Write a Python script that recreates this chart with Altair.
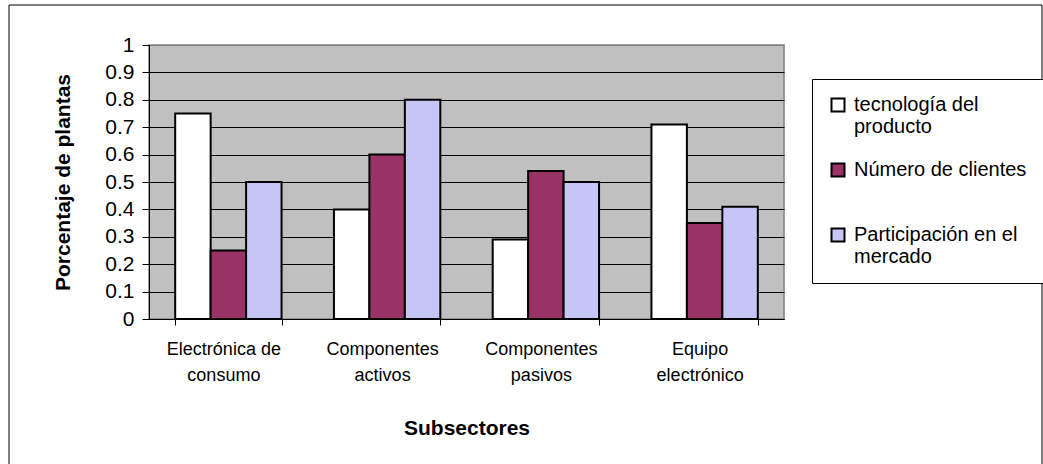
import altair as alt
import pandas as pd

# ---- data ----
CATEGORIES = ["Electrónica de consumo", "Componentes activos",
              "Componentes pasivos", "Equipo electrónico"]
CATEGORY_LINES = [["Electrónica de", "consumo"], ["Componentes", "activos"],
                  ["Componentes", "pasivos"], ["Equipo", "electrónico"]]
SERIES = ["tecnología del producto", "Número de clientes",
          "Participación en el mercado"]
SERIES_LINES = [["tecnología del", "producto"], ["Número de clientes"],
                ["Participación en el", "mercado"]]
TECNOLOGIA = [0.75, 0.40, 0.29, 0.71]
CLIENTES = [0.25, 0.60, 0.54, 0.35]
PARTICIPACION = [0.50, 0.80, 0.50, 0.41]
COLORS = ["#FFFFFF", "#993366", "#C6C6F6"]
Y_TICKS = [0, 0.1, 0.2, 0.3, 0.4, 0.5, 0.6, 0.7, 0.8, 0.9, 1]

FONT = "Liberation Sans"

rows = []
for name, vals in zip(SERIES, [TECNOLOGIA, CLIENTES, PARTICIPACION]):
    for cat, v in zip(CATEGORIES, vals):
        rows.append({"subsector": cat, "serie": name, "valor": v})
df = pd.DataFrame(rows)


def label_expr(keys, lines):
    expr = "datum.label"
    for k, l in reversed(list(zip(keys, lines))):
        arr = "[" + ",".join("'" + s + "'" for s in l) + "]"
        expr = f"datum.label == '{k}' ? {arr} : ({expr})"
    return expr


bars = alt.Chart(df).mark_bar(stroke="black", strokeWidth=2).encode(
    x=alt.X("subsector:N", sort=CATEGORIES,
            scale=alt.Scale(paddingInner=0.33, paddingOuter=0.165),
            axis=alt.Axis(title="Subsectores", labelAngle=0,
                          labelExpr=label_expr(CATEGORIES, CATEGORY_LINES),
                          labelFont=FONT, labelFontSize=18, labelColor="black",
                          labelLineHeight=26, labelPadding=15, labelOffset=-5,
                          tickBand="extent", tickSize=6, tickColor="black",
                          domainColor="black", grid=False,
                          titleFont=FONT, titleFontSize=21, titleFontWeight="bold",
                          titleColor="black", titlePadding=33)),
    xOffset=alt.XOffset("serie:N", sort=SERIES,
                        scale=alt.Scale(paddingInner=0, paddingOuter=0)),
    y=alt.Y("valor:Q", scale=alt.Scale(domain=[0, 1], nice=False),
            axis=alt.Axis(title="Porcentaje de plantas", values=Y_TICKS,
                          format=".1~f", labelFont=FONT, labelFontSize=21,
                          labelColor="black", labelPadding=8,
                          tickSize=7, tickColor="black", domainColor="black",
                          gridColor={"condition": {"test": "datum.value === 1",
                                                   "value": "#808080"},
                                     "value": "black"},
                          gridWidth=1,
                          titleFont=FONT, titleFontSize=21, titleFontWeight="bold",
                          titleColor="black", titlePadding=31)),
    color=alt.Color("serie:N", sort=SERIES,
                    scale=alt.Scale(domain=SERIES, range=COLORS),
                    legend=alt.Legend(orient="none", legendX=663, legendY=34,
                                      title=None, strokeColor="black",
                                      fillColor="white", padding=16,
                                      symbolType="square", symbolSize=169,
                                      symbolStrokeColor="black",
                                      symbolStrokeWidth=2, symbolOpacity=1,
                                      labelFont=FONT, labelFontSize=20,
                                      labelColor="black", labelOffset=6,
                                      labelLimit=400, rowPadding=22,
                                      gridAlign="all",
                                      labelExpr=label_expr(SERIES, SERIES_LINES))),
)

frame = alt.Chart(pd.DataFrame({"k": [0]})).mark_rect(
    fill=None, stroke="black", strokeWidth=1
).encode(x=alt.value(-140), x2=alt.value(893), y=alt.value(-40), y2=alt.value(440))

chart = alt.layer(frame, bars).properties(
    width=635, height=274,
    autosize="none",
    padding={"left": 149, "top": 45, "right": 259, "bottom": 145},
    background="white",
).configure_view(fill="#C0C0C0", stroke="#808080", strokeWidth=1.5)

chart.save("out.html", embed_options={"renderer": "svg", "actions": False})
